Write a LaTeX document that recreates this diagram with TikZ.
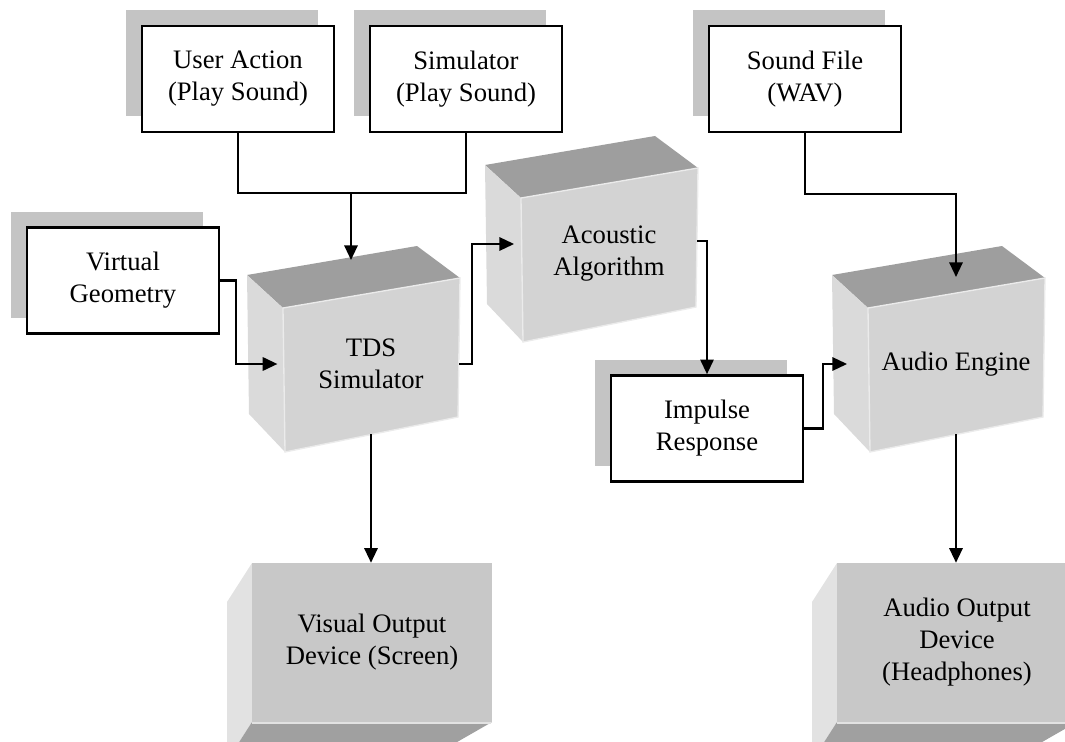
\documentclass[tikz,border=0pt]{standalone}
\usepackage{fontspec}
\setmainfont{Liberation Serif}
\usetikzlibrary{arrows.meta, shadows}

\definecolor{shadowgray}{RGB}{196,196,196}
\definecolor{cubetop}{RGB}{158,158,158}
\definecolor{cubeside}{RGB}{218,218,218}
\definecolor{cubefront}{RGB}{211,211,211}
\definecolor{devfront}{RGB}{200,200,200}
\definecolor{devside}{RGB}{226,226,226}
\definecolor{devbottom}{RGB}{160,160,160}

\tikzset{
  srcbox/.style={draw, fill=white, line width=2pt, minimum width=144pt, minimum height=79.5pt, align=center,
    drop shadow={shadow xshift=-12pt, shadow yshift=12pt, fill=shadowgray, opacity=1}},
  link/.style={line width=1.6pt},
  flow/.style={line width=1.6pt, -{Triangle[length=11pt, width=10pt]}},
}

% solid block: #1 name, #2/#3 front top-left corner, #4 label
\newcommand{\cubeblock}[4]{%
  \begin{scope}[shift={(#2,#3)}]
    \fill[cubetop] (-36,-33) -- (134,-62) -- (177,-30) -- (0,0) -- cycle;
    \fill[cubeside] (-36,-33) -- (0,0) -- (2,144) -- (-34,106) -- cycle;
    \filldraw[fill=cubefront, draw=white!92!black, line width=1pt] (0,0) -- (177,-30) -- (175,109) -- (2,144) -- cycle;
    \node[minimum width=132pt, minimum height=105pt, align=center] (#1) at (88,56) {#4};
    \coordinate (#1-top) at (88,-31);
  \end{scope}}

% output device, seen from below
\newcommand{\devblock}[4]{%
  \begin{scope}[shift={(#2,#3)}]
    \fill[devside] (0,0) -- (-25,39) -- (-25,198) -- (0,159) -- cycle;
    \fill[devbottom] (0,159) -- (240,159) -- (172,198) -- (-25,198) -- cycle;
    \fill[devfront] (0,0) rectangle (240,159);
    \draw[white!70!devbottom, line width=2pt] (0,160) -- (239,160);
    \node[minimum width=180pt, minimum height=119.25pt, align=center] (#1) at (120,79.5) {#4};
  \end{scope}}

\begin{document}
\begin{tikzpicture}[x=0.75pt, y=-0.75pt, font=\fontsize{20}{24}\selectfont]
    \clip (0,0) rectangle (1065,742);

    \node[srcbox] (useraction) at (238,79) {User Action\\(Play Sound)};
    \node[srcbox] (simcall) at (466,79) {Simulator\\(Play Sound)};
    \node[srcbox] (soundfile) at (805,79) {Sound File\\(WAV)};
    \node[srcbox] (geometry) at (123,280.5) {Virtual\\Geometry};
    \node[srcbox] (impulse) at (707,428.5) {Impulse\\Response};

    \cubeblock{tds}{283}{308}{TDS\\Simulator}
    \cubeblock{acoustic}{521}{198}{Acoustic\\Algorithm}
    \cubeblock{engine}{868}{308}{Audio Engine}

    \devblock{screen}{252}{563}{Visual Output\\Device (Screen)}
    \devblock{phones}{837}{563}{Audio Output\\Device\\(Headphones)}

    \coordinate (trigger) at (351,193);
    \draw[link] (useraction.south) |- (trigger) -| (simcall.south);
    \draw[flow] (trigger) -- ([yshift=12.75pt]trigger |- tds-top);

    \draw[flow] (geometry.east) -- ++(16,0) |- ([xshift=-4pt]tds.west);
    \draw[flow] (tds.east) -- ++(13,0) |- ([shift={(-5pt,7.5pt)}]acoustic.west);
    \draw[flow] ([yshift=10pt]acoustic.east) -| (impulse.north);
    \draw[flow] (impulse.east) -- ++(19,0) |- ([xshift=-15.5pt]engine.west);
    \draw[flow] (soundfile.south) -- ++(0,61) -| (engine-top);

    \draw[flow] (tds.south) -- (tds.south |- screen.north);
    \draw[flow] (engine.south) -- (engine.south |- phones.north);
\end{tikzpicture}
\end{document}
